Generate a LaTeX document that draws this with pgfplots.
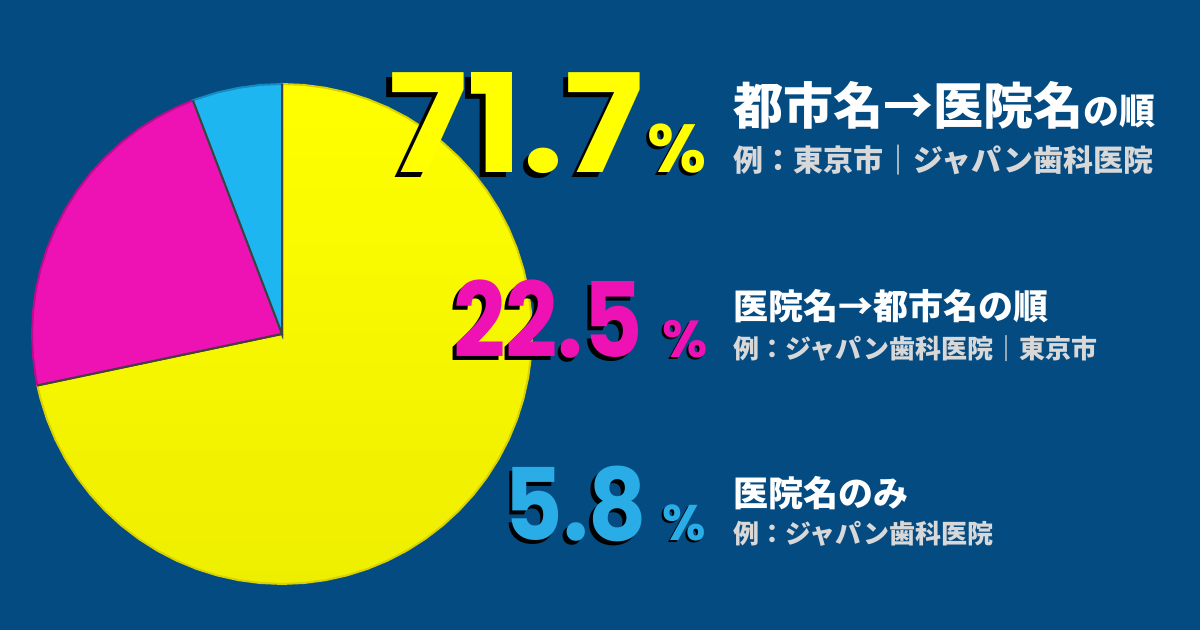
\documentclass[border=0pt]{standalone}
\usepackage{pgfplots}
\pgfplotsset{compat=1.18}
\usepackage{fontspec}
\newfontfamily\jp{Noto Sans CJK JP}
\newfontfamily\num{Poppins}
\definecolor{bg}{RGB}{4,75,130}
\definecolor{yel}{RGB}{255,255,0}
\definecolor{yeldark}{RGB}{238,238,0}
\definecolor{yelrim}{RGB}{215,210,0}
\definecolor{mag}{RGB}{238,18,180}
\definecolor{magrim}{RGB}{190,10,140}
\definecolor{cya}{RGB}{30,182,240}
\definecolor{cyarim}{RGB}{20,140,195}
\definecolor{numcya}{RGB}{42,172,230}
\definecolor{subgray}{RGB}{216,216,216}
\begin{document}
\begin{tikzpicture}
\begin{axis}[hide axis, scale only axis, width=1200pt, height=630pt,
  xmin=-282, xmax=918, ymin=-296, ymax=334, clip=false]
% background
\addplot[fill=bg, draw=none] coordinates {(-282,-296) (918,-296) (918,334) (-282,334)} -- cycle;
% pie: 71.7 / 22.5 / 5.8 percent, starting at the top, counter-clockwise: 5.8, 22.5, 71.7
% yellow 71.7 %  (191.88 deg to 450 deg)
\addplot[data cs=polar, draw=yelrim, line width=2pt, top color=yel, bottom color=yeldark] coordinates {
(0,0) (191.88,250) (195,250) (200,250) (205,250) (210,250) (215,250) (220,250) (225,250) (230,250)
(235,250) (240,250) (245,250) (250,250) (255,250) (260,250) (265,250) (270,250) (275,250) (280,250)
(285,250) (290,250) (295,250) (300,250) (305,250) (310,250) (315,250) (320,250) (325,250) (330,250)
(335,250) (340,250) (345,250) (350,250) (355,250) (360,250) (365,250) (370,250) (375,250) (380,250)
(385,250) (390,250) (395,250) (400,250) (405,250) (410,250) (415,250) (420,250) (425,250) (430,250)
(435,250) (440,250) (445,250) (450,250)} -- cycle;
% magenta 22.5 % (110.88 deg to 191.88 deg)
\addplot[data cs=polar, draw=magrim, line width=2pt, fill=mag] coordinates {
(0,0) (110.88,250) (115,250) (120,250) (125,250) (130,250) (135,250) (140,250) (145,250) (150,250)
(155,250) (160,250) (165,250) (170,250) (175,250) (180,250) (185,250) (190,250) (191.88,250)} -- cycle;
% cyan 5.8 % (90 deg to 110.88 deg)
\addplot[data cs=polar, draw=cyarim, line width=2pt, fill=cya] coordinates {
(0,0) (90,250) (95,250) (100,250) (105,250) (110,250) (110.88,250)} -- cycle;
% separators
\addplot[data cs=polar, draw=black!75, line width=2pt] coordinates {(90,250) (0,0) (110.88,250)};
\addplot[data cs=polar, draw=black!75, line width=2pt] coordinates {(0,0) (191.88,250)};

% numbers
\node[anchor=base east, inner sep=0, text=black, xscale=1.08, xshift=-5pt, yshift=-5pt] at (axis cs:362,161) {\num\bfseries\fontsize{137}{137}\selectfont 71.7};
\node[anchor=base east, inner sep=0, text=yel, xscale=1.08] at (axis cs:362,161) {\num\bfseries\fontsize{137}{137}\selectfont 71.7};
\node[anchor=base west, inner sep=0, text=black, xshift=-3pt, yshift=-3pt] at (axis cs:365,161) {\num\bfseries\fontsize{68}{68}\selectfont \%};
\node[anchor=base west, inner sep=0, text=yel] at (axis cs:365,161) {\num\bfseries\fontsize{68}{68}\selectfont \%};

\node[anchor=base east, inner sep=0, text=black, xscale=0.88, xshift=-4pt, yshift=-4pt] at (axis cs:361,-24) {\num\bfseries\fontsize{104}{104}\selectfont 22.5};
\node[anchor=base east, inner sep=0, text=mag, xscale=0.88] at (axis cs:361,-24) {\num\bfseries\fontsize{104}{104}\selectfont 22.5};
\node[anchor=base west, inner sep=0, text=black, xshift=-2pt, yshift=-2pt] at (axis cs:380,-24) {\num\bfseries\fontsize{52}{52}\selectfont \%};
\node[anchor=base west, inner sep=0, text=mag] at (axis cs:380,-24) {\num\bfseries\fontsize{52}{52}\selectfont \%};

\node[anchor=base east, inner sep=0, text=black, xscale=0.9, xshift=-4pt, yshift=-4pt] at (axis cs:365,-207) {\num\bfseries\fontsize{100}{100}\selectfont 5.8};
\node[anchor=base east, inner sep=0, text=numcya, xscale=0.9] at (axis cs:365,-207) {\num\bfseries\fontsize{100}{100}\selectfont 5.8};
\node[anchor=base west, inner sep=0, text=black, xshift=-2pt, yshift=-2pt] at (axis cs:380,-207) {\num\bfseries\fontsize{50}{50}\selectfont \%};
\node[anchor=base west, inner sep=0, text=numcya] at (axis cs:380,-207) {\num\bfseries\fontsize{50}{50}\selectfont \%};

% labels
\node[anchor=base west, inner sep=0, text=white] at (axis cs:451,209) {\jp\bfseries{\fontsize{50}{50}\selectfont 都市名→医院名}{\fontsize{36}{36}\selectfont の順}};
\node[anchor=base west, inner sep=0, text=subgray] at (axis cs:451,162) {\jp\bfseries\fontsize{30}{30}\selectfont 例：東京市｜ジャパン歯科医院};
\node[anchor=base west, inner sep=0, text=white] at (axis cs:451,14) {\jp\bfseries\fontsize{35}{35}\selectfont 医院名→都市名の順};
\node[anchor=base west, inner sep=0, text=subgray] at (axis cs:451,-25) {\jp\bfseries\fontsize{26}{26}\selectfont 例：ジャパン歯科医院｜東京市};
\node[anchor=base west, inner sep=0, text=white] at (axis cs:451,-173) {\jp\bfseries\fontsize{35}{35}\selectfont 医院名のみ};
\node[anchor=base west, inner sep=0, text=subgray] at (axis cs:451,-210) {\jp\bfseries\fontsize{26}{26}\selectfont 例：ジャパン歯科医院};
\end{axis}
\end{tikzpicture}
\end{document}
